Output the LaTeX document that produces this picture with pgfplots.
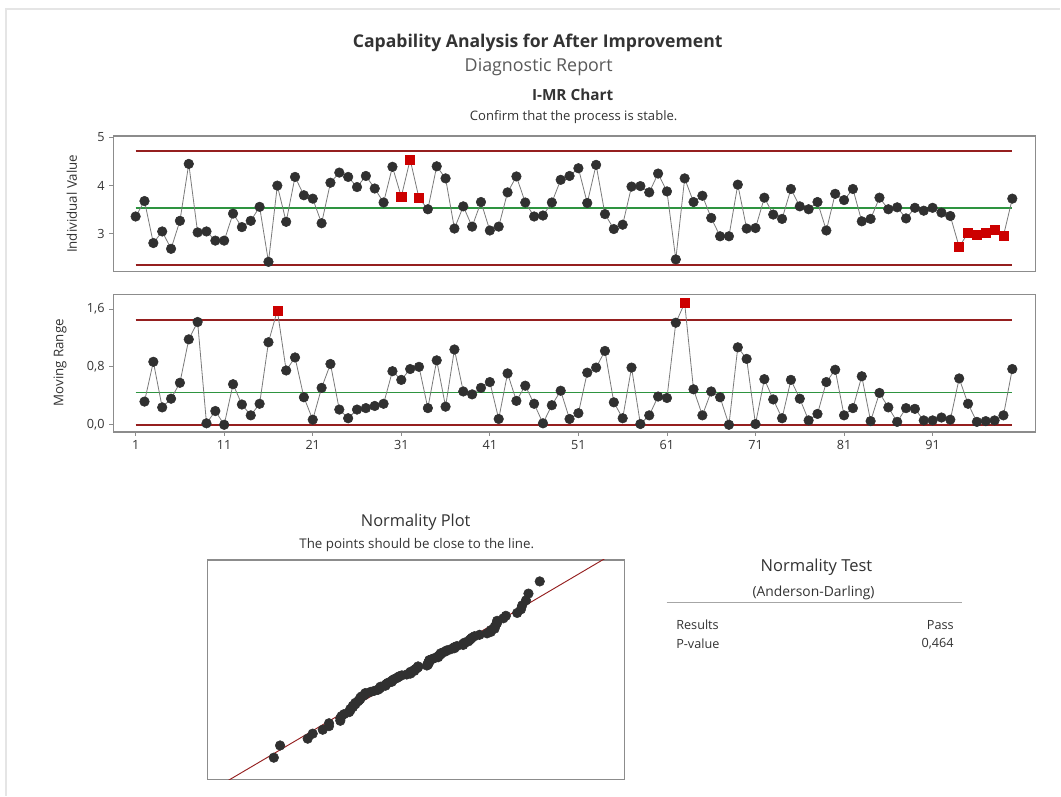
\documentclass[border=0pt]{standalone}
\usepackage{pgfplots}
\pgfplotsset{compat=1.18}
\usepackage{pgfplotstable}
\usepackage{fontspec}
\setmainfont{Open Sans}
\definecolor{ptgray}{HTML}{303030}
\definecolor{ptred}{HTML}{CC0000}
\definecolor{limred}{HTML}{951F1F}
\definecolor{clgreen}{HTML}{2E9440}
\definecolor{boxgray}{HTML}{8C8C8C}
\definecolor{txtgray}{HTML}{333333}
\definecolor{conngray}{HTML}{7A7A7A}

\pgfplotstableread{
obs val flag
1 3.36 n
2 3.68 n
3 2.81 n
4 3.05 n
5 2.69 n
6 3.27 n
7 4.45 n
8 3.03 n
9 3.05 n
10 2.86 n
11 2.86 n
12 3.42 n
13 3.14 n
14 3.27 n
15 3.56 n
16 2.42 n
17 4.00 n
18 3.25 n
19 4.18 n
20 3.80 n
21 3.73 n
22 3.22 n
23 4.06 n
24 4.27 n
25 4.18 n
26 3.97 n
27 4.20 n
28 3.94 n
29 3.65 n
30 4.39 n
31 3.77 r
32 4.54 r
33 3.74 r
34 3.51 n
35 4.40 n
36 4.15 n
37 3.11 n
38 3.57 n
39 3.15 n
40 3.66 n
41 3.07 n
42 3.15 n
43 3.86 n
44 4.19 n
45 3.65 n
46 3.36 n
47 3.38 n
48 3.65 n
49 4.12 n
50 4.20 n
51 4.36 n
52 3.64 n
53 4.43 n
54 3.41 n
55 3.10 n
56 3.19 n
57 3.98 n
58 3.99 n
59 3.86 n
60 4.25 n
61 3.88 n
62 2.47 n
63 4.15 n
64 3.66 n
65 3.79 n
66 3.33 n
67 2.95 n
68 2.95 n
69 4.02 n
70 3.11 n
71 3.12 n
72 3.75 n
73 3.40 n
74 3.31 n
75 3.93 n
76 3.57 n
77 3.51 n
78 3.66 n
79 3.07 n
80 3.83 n
81 3.70 n
82 3.93 n
83 3.26 n
84 3.31 n
85 3.75 n
86 3.51 n
87 3.55 n
88 3.32 n
89 3.54 n
90 3.48 n
91 3.54 n
92 3.44 n
93 3.37 n
94 2.73 r
95 3.02 r
96 2.98 r
97 3.03 r
98 3.09 r
99 2.96 r
100 3.73 n
}\idata

\pgfplotstableread{
obs mr flag
2 0.32 n
3 0.87 n
4 0.24 n
5 0.36 n
6 0.58 n
7 1.18 n
8 1.42 n
9 0.02 n
10 0.19 n
11 0.00 n
12 0.56 n
13 0.28 n
14 0.13 n
15 0.29 n
16 1.14 n
17 1.58 r
18 0.75 n
19 0.93 n
20 0.38 n
21 0.07 n
22 0.51 n
23 0.84 n
24 0.21 n
25 0.09 n
26 0.21 n
27 0.23 n
28 0.26 n
29 0.29 n
30 0.74 n
31 0.62 n
32 0.77 n
33 0.80 n
34 0.23 n
35 0.89 n
36 0.25 n
37 1.04 n
38 0.46 n
39 0.42 n
40 0.51 n
41 0.59 n
42 0.08 n
43 0.71 n
44 0.33 n
45 0.54 n
46 0.29 n
47 0.02 n
48 0.27 n
49 0.47 n
50 0.08 n
51 0.16 n
52 0.72 n
53 0.79 n
54 1.02 n
55 0.31 n
56 0.09 n
57 0.79 n
58 0.01 n
59 0.13 n
60 0.39 n
61 0.37 n
62 1.41 n
63 1.68 r
64 0.49 n
65 0.13 n
66 0.46 n
67 0.38 n
68 0.00 n
69 1.07 n
70 0.91 n
71 0.01 n
72 0.63 n
73 0.35 n
74 0.09 n
75 0.62 n
76 0.36 n
77 0.06 n
78 0.15 n
79 0.59 n
80 0.76 n
81 0.13 n
82 0.23 n
83 0.67 n
84 0.05 n
85 0.44 n
86 0.24 n
87 0.04 n
88 0.23 n
89 0.22 n
90 0.06 n
91 0.06 n
92 0.10 n
93 0.07 n
94 0.64 n
95 0.29 n
96 0.04 n
97 0.05 n
98 0.06 n
99 0.13 n
100 0.77 n
}\mrdata

\pgfplotstableread{
val z
2.42 -2.46
2.47 -2.12
2.69 -1.93
2.73 -1.79
2.81 -1.68
2.86 -1.58
2.86 -1.50
2.95 -1.43
2.95 -1.36
2.96 -1.30
2.98 -1.245
3.02 -1.19
3.03 -1.14
3.03 -1.10
3.05 -1.05
3.05 -1.01
3.07 -0.97
3.07 -0.93
3.09 -0.89
3.10 -0.855
3.11 -0.82
3.11 -0.785
3.12 -0.75
3.14 -0.72
3.15 -0.687
3.15 -0.656
3.19 -0.625
3.22 -0.595
3.25 -0.566
3.26 -0.536
3.27 -0.508
3.27 -0.48
3.31 -0.452
3.31 -0.424
3.32 -0.397
3.33 -0.37
3.36 -0.344
3.36 -0.318
3.37 -0.291
3.38 -0.265
3.40 -0.24
3.41 -0.214
3.42 -0.189
3.44 -0.163
3.48 -0.138
3.51 -0.113
3.51 -0.0875
3.51 -0.0624
3.54 -0.0375
3.54 -0.0125
3.55 0.0125
3.56 0.0375
3.57 0.0624
3.57 0.0875
3.64 0.113
3.65 0.138
3.65 0.163
3.65 0.189
3.66 0.214
3.66 0.24
3.66 0.265
3.68 0.291
3.70 0.318
3.73 0.344
3.73 0.37
3.74 0.397
3.75 0.424
3.75 0.452
3.77 0.48
3.79 0.508
3.80 0.536
3.83 0.566
3.86 0.595
3.86 0.625
3.88 0.656
3.93 0.687
3.93 0.72
3.94 0.75
3.97 0.785
3.98 0.82
3.99 0.855
4.00 0.89
4.02 0.93
4.06 0.97
4.12 1.01
4.15 1.05
4.15 1.10
4.18 1.14
4.18 1.19
4.19 1.245
4.20 1.30
4.20 1.36
4.25 1.43
4.27 1.50
4.36 1.58
4.39 1.68
4.40 1.79
4.43 1.93
4.45 2.12
4.54 2.46
}\normdata

\pgfplotsset{
  ctl/.style={
    scale only axis,
    axis line style={draw=boxgray, line width=0.9pt},
    tick style={draw=boxgray, line width=0.6pt},
    tick align=outside,
    major tick length=3pt,
    xtick pos=lower, ytick pos=left,
    ticklabel style={font=\fontsize{9.5}{11}\selectfont, text=txtgray},
    /pgf/number format/assume math mode=true,
    xmin=-1.53, xmax=102.6,
    clip=false,
    scatter/classes={
      n={mark=*, mark size=3.6pt, draw=ptgray, fill=ptgray},
      r={mark=square*, mark size=3.4pt, draw=ptred, fill=ptred}},
  },
  dots/.style={only marks, scatter, scatter src=explicit symbolic},
  conn/.style={no markers, color=conngray, line width=0.6pt},
  ucl/.style={no markers, color=limred, line width=1.2pt},
  ctr/.style={no markers, color=clgreen, line width=1.2pt},
}

\begin{document}
\begin{tikzpicture}[x=0.75pt,y=0.75pt]
\fill[white] (0,0) rectangle (1061,-796);
\draw[gray!20, line width=1pt] (6,-796) -- (6,-9) -- (1061,-9);

\node[font=\fontsize{13.2}{15}\selectfont\bfseries, text=txtgray] at (538,-43) {Capability Analysis for After Improvement};
\node[font=\fontsize{13.4}{15}\selectfont, text=black!65] at (539,-67) {Diagnostic Report};
\node[font=\fontsize{11.5}{13}\selectfont\bfseries, text=txtgray] at (573,-95) {I-MR Chart};
\node[font=\fontsize{9.8}{11}\selectfont, text=txtgray] at (574,-117) {Confirm that the process is stable.};

\node[rotate=90, font=\fontsize{10}{12}\selectfont, text=txtgray] at (72,-204) {Individual Value};
\node[rotate=90, font=\fontsize{10}{12}\selectfont, text=txtgray] at (60,-363) {Moving Range};

% I chart
\begin{axis}[ctl, at={(84.98pt,-102pt)}, anchor=north west,
  width=692pt, height=102pt,
  ymin=2.213, ymax=5.03,
  ytick={3,4,5}, xtick=\empty]
\addplot[ucl] coordinates {(1,4.72) (100,4.72)};
\addplot[ctr] coordinates {(1,3.54) (100,3.54)};
\addplot[ucl] coordinates {(1,2.36) (100,2.36)};
\addplot[conn] table[x=obs,y=val] {\idata};
\addplot[dots] table[x=obs,y=val,meta=flag] {\idata};
\end{axis}

% MR chart
\begin{axis}[ctl, at={(84.98pt,-221pt)}, anchor=north west,
  width=692pt, height=103.2pt,
  ymin=-0.10, ymax=1.80,
  ytick={0,0.8,1.6}, yticklabels={{0,0},{0,8},{1,6}},
  xtick={1,11,21,31,41,51,61,71,81,91}]
\addplot[ucl] coordinates {(1,1.45) (100,1.45)};
\addplot[ctr] coordinates {(1,0.444) (100,0.444)};
\addplot[ucl] coordinates {(1,0) (100,0)};
\addplot[conn] table[x=obs,y=mr] {\mrdata};
\addplot[dots] table[x=obs,y=mr,meta=flag] {\mrdata};
\end{axis}

% Normality plot
\node[font=\fontsize{12.3}{14}\selectfont, text=txtgray] at (416,-523) {Normality Plot};
\node[font=\fontsize{10}{12}\selectfont, text=txtgray] at (417,-545) {The points should be close to the line.};
\begin{axis}[scale only axis, at={(155.5pt,-420.2pt)}, anchor=north west,
  width=313.3pt, height=164.8pt,
  axis line style={draw=boxgray, line width=0.9pt},
  xmin=1.889, xmax=5.217, ymin=-3.07, ymax=3.06,
  xtick=\empty, ytick=\empty]
\addplot[no markers, color=limred, line width=0.7pt] coordinates {(2.05,-3.11) (5.06,3.10)};
\addplot[only marks, mark=*, mark size=3.6pt, draw=ptgray, fill=ptgray] table[x=val,y=z] {\normdata};
\end{axis}

% Normality test
\node[font=\fontsize{12.4}{14}\selectfont, text=txtgray] at (817,-568) {Normality Test};
\node[font=\fontsize{10.4}{12}\selectfont, text=txtgray] at (814,-593) {(Anderson-Darling)};
\draw[gray!70, line width=0.8pt] (667,-603) -- (963,-603);
\node[anchor=west, font=\fontsize{9.5}{11}\selectfont, text=txtgray] at (672,-625) {Results};
\node[anchor=east, font=\fontsize{9.5}{11}\selectfont, text=txtgray] at (959,-625) {Pass};
\node[anchor=west, font=\fontsize{9.5}{11}\selectfont, text=txtgray] at (672,-644) {P-value};
\node[anchor=east, font=\fontsize{9.5}{11}\selectfont, text=txtgray] at (959,-644) {0,464};
\end{tikzpicture}
\end{document}
